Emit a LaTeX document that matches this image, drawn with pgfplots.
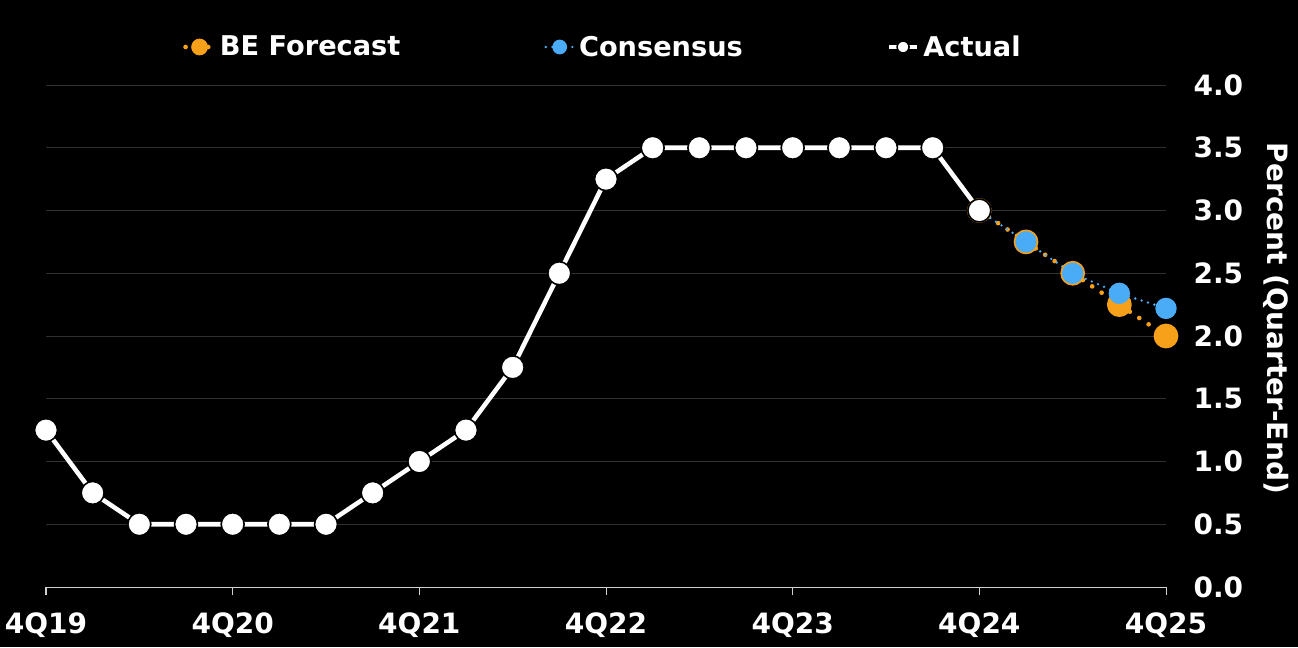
\documentclass[border=0pt]{standalone}
\usepackage{pgfplots}
\pgfplotsset{compat=1.18}
\usepackage{fontspec}
\setmainfont{DejaVu Sans}
\definecolor{beorange}{HTML}{F7A11A}
\definecolor{cblue}{HTML}{4AACF6}
\definecolor{gridc}{HTML}{303030}
\definecolor{axc}{HTML}{D0D0D0}
\newcommand{\chfont}{\fontsize{21}{25}\selectfont\bfseries}
\newcommand{\lgfont}{\fontsize{20.4}{24}\selectfont\bfseries}
\begin{document}
\begin{tikzpicture}
\fill[black] (-34.5pt,-45pt) rectangle (939pt,440.25pt);
\begin{axis}[
  at={(0,0)}, anchor=south west,
  scale only axis, width=840pt, height=376.5pt,
  xmin=0, xmax=24, ymin=0, ymax=4,
  clip=false,
  axis x line*=bottom, axis y line*=right,
  x axis line style={axc, line width=0.75pt, -},
  y axis line style={draw=none},
  xtick={0,4,8,12,16,20,24},
  xticklabels={4Q19,4Q20,4Q21,4Q22,4Q23,4Q24,4Q25},
  ytick={0,0.5,1,1.5,2,2.5,3,3.5,4},
  ytick style={draw=none},
  xtick style={axc, line width=0.75pt},
  tick align=outside, major tick length=6pt,
  ymajorgrids, grid style={gridc, line width=0.75pt},
  yticklabel style={/pgf/number format/fixed,/pgf/number format/fixed zerofill,/pgf/number format/precision=1, inner sep=0pt, xshift=14.5pt},
  xticklabel style={inner sep=0pt, yshift=-13pt},
  ticklabel style={font=\chfont, text=white},
  /pgf/number format/assume math mode=true,
  ylabel={Percent (Quarter-End)},
  ylabel style={font=\chfont, text=white, rotate=180, at={(axis description cs:1.0982,0.535)}, anchor=center},
  legend columns=3,
  legend style={at={(axis description cs:0.1223,1.0757)}, anchor=west, draw=none, fill=none, inner sep=0pt,
    text=white, font=\lgfont, /tikz/every even column/.append style={column sep=105pt},
    nodes={inner xsep=3pt, inner ysep=0pt}},
  legend cell align=left,
  legend image code/.code={\draw[mark repeat=2,mark phase=2,#1, mark size=4.5pt] plot coordinates {(0pt,0pt) (10.5pt,0pt) (21pt,0pt)};},
]
\addplot[beorange, line width=3.5pt, dash pattern=on 0pt off 8.5pt, line cap=round,
  mark=*, mark size=7.5pt, mark options={solid, fill=beorange, draw=none}]
  coordinates {(20,3.0) (21,2.75) (22,2.5) (23,2.25) (24,2.0)};
\addlegendentry{BE Forecast}
\addplot[cblue, line width=2pt, dash pattern=on 0pt off 5pt, line cap=round,
  mark=*, mark size=7pt, mark options={solid, fill=cblue, draw=none}]
  coordinates {(20,3.0) (21,2.75) (22,2.5) (23,2.34) (24,2.22)};
\addlegendentry{Consensus}
\addplot[white, line width=3.4pt, mark=*, mark size=8.6pt, mark options={fill=white, draw=black, line width=1.2pt}]
  coordinates {(0,1.25) (1,0.75) (2,0.5) (3,0.5) (4,0.5) (5,0.5) (6,0.5) (7,0.75) (8,1.0) (9,1.25) (10,1.75) (11,2.5) (12,3.25) (13,3.5) (14,3.5) (15,3.5) (16,3.5) (17,3.5) (18,3.5) (19,3.5) (20,3.0)};
\addlegendentry{Actual}
\end{axis}
\pgfresetboundingbox
\useasboundingbox (-34.5pt,-45pt) rectangle (939pt,440.25pt);
\end{tikzpicture}
\end{document}
